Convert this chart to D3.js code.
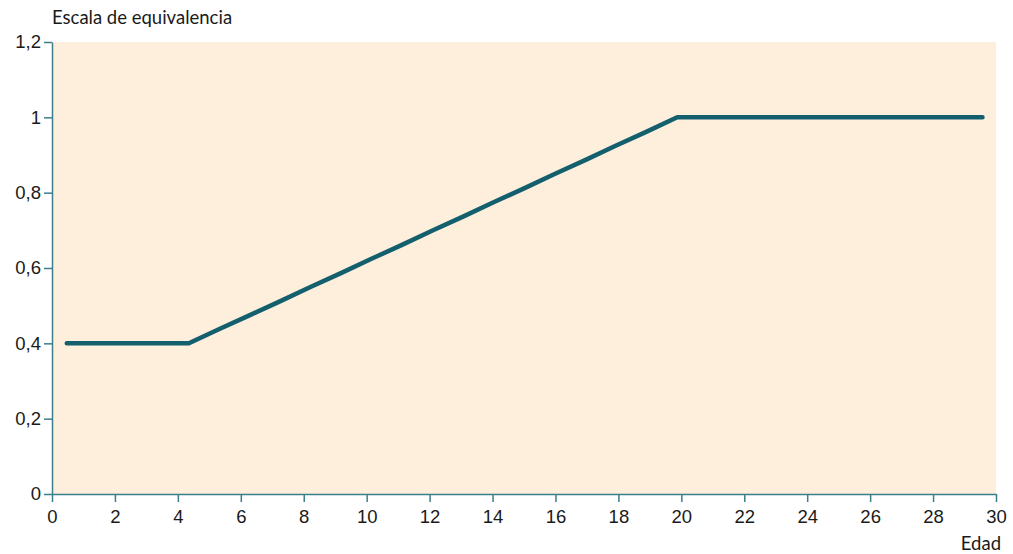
<!DOCTYPE html>
<html lang="es">
<head>
  <meta charset="UTF-8">
  <title>Escala de equivalencia</title>
  <script src="https://d3js.org/d3.v7.min.js"></script>
  <style>
    body {
      margin: 0;
      background: white;
      font-family: Lato, "Open Sans", sans-serif;
    }
    text {
      font-size: 18.5px;
      fill: #1a1a1a;
    }
    .axis path, .axis line {
      stroke: #3b7f8c;
      stroke-width: 1.5px;
    }
  </style>
</head>
<body>
  <svg width="1013" height="554"></svg>

  <script>
    // edad (años) y escala de equivalencia
    const ages = [
      0.47, 1.44, 2.41, 3.38, 4.35, 5.32, 6.29, 7.26, 8.23, 9.2,
      10.17, 11.14, 12.11, 13.08, 14.05, 15.02, 15.99, 16.96, 17.93, 18.9,
      19.87, 20.84, 21.81, 22.78, 23.75, 24.72, 25.69, 26.66, 27.63, 28.6, 29.57
    ];
    const scale = [
      0.4, 0.4, 0.4, 0.4, 0.4, 0.438, 0.475, 0.512, 0.55, 0.587,
      0.625, 0.662, 0.7, 0.737, 0.775, 0.812, 0.85, 0.887, 0.925, 0.962,
      1, 1, 1, 1, 1, 1, 1, 1, 1, 1, 1
    ];
    const xTicks = [0, 2, 4, 6, 8, 10, 12, 14, 16, 18, 20, 22, 24, 26, 28, 30];
    const yTicks = [0, 0.2, 0.4, 0.6, 0.8, 1, 1.2];

    const data = ages.map((a, i) => ({ age: a, value: scale[i] }));

    const margin = { top: 42, right: 17, bottom: 60, left: 52 };
    const width = 1013 - margin.left - margin.right;
    const height = 554 - margin.top - margin.bottom;

    const svg = d3.select("svg");
    const g = svg.append("g")
      .attr("transform", `translate(${margin.left},${margin.top})`);

    const x = d3.scaleLinear().domain([0, 30]).range([0, width]);
    const y = d3.scaleLinear().domain([0, 1.2]).range([height, 0]);

    const fmt = d => d3.format("~g")(d).replace(".", ",");

    g.append("rect")
      .attr("width", width)
      .attr("height", height)
      .attr("fill", "#fdefdc");

    g.append("g")
      .attr("class", "axis")
      .attr("transform", `translate(0,${height})`)
      .call(d3.axisBottom(x).tickValues(xTicks).tickSize(8).tickSizeOuter(0).tickFormat(fmt))
      .call(a => a.selectAll("text").attr("dy", "0.95em").style("font-size", "18.5px").style("font-family", "inherit"));

    g.append("g")
      .attr("class", "axis")
      .call(d3.axisLeft(y).tickValues(yTicks).tickSize(8).tickSizeOuter(0).tickFormat(fmt))
      .call(a => a.selectAll("text").attr("x", -11).style("font-size", "18.5px").style("font-family", "inherit"));

    const line = d3.line()
      .x(d => x(d.age))
      .y(d => y(d.value));

    g.append("path")
      .datum(data)
      .attr("fill", "none")
      .attr("stroke", "#135f6e")
      .attr("stroke-width", 4.5)
      .attr("stroke-linecap", "round")
      .attr("stroke-linejoin", "round")
      .attr("d", line);

    svg.append("text")
      .attr("x", 52)
      .attr("y", 24)
      .text("Escala de equivalencia");

    svg.append("text")
      .attr("x", margin.left + width + 5)
      .attr("y", 550)
      .attr("text-anchor", "end")
      .text("Edad");
  </script>
</body>
</html>
